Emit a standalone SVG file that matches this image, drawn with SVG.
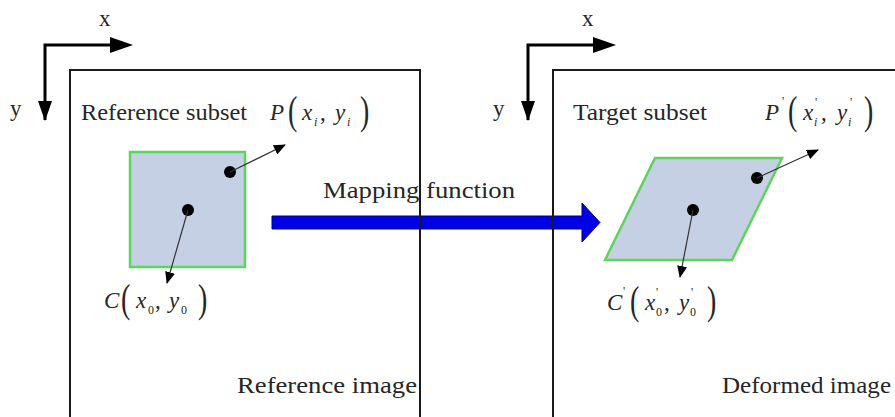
<svg xmlns="http://www.w3.org/2000/svg" width="895" height="417" viewBox="0 0 895 417">
<style>
  .t { font-family: "Liberation Serif", "Times New Roman", serif; font-size: 23px; fill: #262626; }
  .m { font-family: "Liberation Serif", "Times New Roman", serif; font-size: 23px; font-style: italic; fill: #262626; }
  .par { font-family: "Liberation Serif", "Times New Roman", serif; font-size: 40px; fill: #262626; }
  .sub { font-family: "Liberation Serif", "Times New Roman", serif; font-size: 12px; font-style: italic; fill: #262626; }
  .subn { font-family: "Liberation Serif", "Times New Roman", serif; font-size: 12px; fill: #262626; }
  .frame { fill: none; stroke: #1a1a1a; stroke-width: 2; }
  .axis { fill: none; stroke: #000; stroke-width: 3; }
  .subset { fill: #c6d0e4; stroke: #5ed35e; stroke-width: 2.5; }
  .dot { fill: #000; }
  .ptr { fill: none; stroke: #333; stroke-width: 1.2; marker-end: url(#ah); }
</style>
<defs>
  <marker id="ah" viewBox="0 0 12 10" refX="11" refY="5" markerWidth="12" markerHeight="10" markerUnits="userSpaceOnUse" orient="auto">
    <path d="M0,0 L12,5 L0,10 Z" fill="#000"/>
  </marker>
</defs>
<rect width="895" height="417" fill="#fff"/>

<g id="axes-left">
  <polyline class="axis" points="45,120 45,45 112,45"/>
  <polygon points="110,37 133,45 110,53" fill="#000"/>
  <polygon points="38,101 52,101 45,121" fill="#000"/>
  <text class="t" x="99" y="26">x</text>
  <text class="t" x="10" y="116">y</text>
</g>
<g id="axes-right">
  <polyline class="axis" points="528,120 528,45 595,45"/>
  <polygon points="593,37 616,45 593,53" fill="#000"/>
  <polygon points="521,101 535,101 528,121" fill="#000"/>
  <text class="t" x="582" y="26">x</text>
  <text class="t" x="493" y="116">y</text>
</g>

<g id="reference-subset">
  <rect class="subset" x="130" y="152" width="115" height="115"/>
  <circle class="dot" cx="230" cy="172" r="6"/>
  <circle class="dot" cx="188" cy="210" r="6"/>
</g>
<g id="target-subset">
  <polygon class="subset" points="655,158 782,158 732,260 605,260"/>
  <circle class="dot" cx="757" cy="178" r="6"/>
  <circle class="dot" cx="693" cy="210" r="6"/>
</g>

<g id="connectors">
  <polygon points="272,216 582,216 582,203 600,222.5 582,242 582,229 272,229" fill="#0000e6" stroke="#00007a" stroke-width="1"/>
  <line class="ptr" x1="230" y1="172" x2="285" y2="145"/>
  <line class="ptr" x1="188" y1="210" x2="167" y2="283"/>
  <line class="ptr" x1="757" y1="178" x2="818" y2="150"/>
  <line class="ptr" x1="693" y1="210" x2="680" y2="277"/>
</g>

<g id="reference-image">
  <rect class="frame" x="70" y="70" width="350" height="400"/>
  <text class="t" x="81" y="120" textLength="166" lengthAdjust="spacingAndGlyphs">Reference subset</text>
  <text class="t" x="237" y="393" textLength="180" lengthAdjust="spacingAndGlyphs">Reference image</text>
</g>
<g id="deformed-image">
  <rect class="frame" x="553" y="70" width="400" height="400"/>
  <text class="t" x="573" y="120" textLength="134" lengthAdjust="spacingAndGlyphs">Target subset</text>
  <text class="t" x="722" y="393" textLength="169" lengthAdjust="spacingAndGlyphs">Deformed image</text>
</g>

<g id="label-P">
  <text class="m" x="270" y="120">P</text>
  <text class="par" transform="translate(288,124) scale(0.7,1)">(</text>
  <text class="m" x="302" y="120">x</text>
  <text class="sub" x="314" y="126">i</text>
  <text class="t" x="320" y="120">,</text>
  <text class="m" x="335" y="120">y</text>
  <text class="sub" x="347" y="126">i</text>
  <text class="par" transform="translate(360,124) scale(0.7,1)">)</text>
</g>
<g id="label-P-prime">
  <text class="m" x="765" y="120">P</text>
  <text class="subn" x="782" y="105">'</text>
  <text class="par" transform="translate(788,124) scale(0.7,1)">(</text>
  <text class="m" x="803" y="120">x</text>
  <text class="subn" x="815" y="106">'</text>
  <text class="sub" x="814" y="126">i</text>
  <text class="t" x="821" y="120">,</text>
  <text class="m" x="837" y="120">y</text>
  <text class="subn" x="850" y="106">'</text>
  <text class="sub" x="848" y="126">i</text>
  <text class="par" transform="translate(864,124) scale(0.7,1)">)</text>
</g>
<g id="label-C">
  <text class="m" x="104" y="308">C</text>
  <text class="par" transform="translate(121,312) scale(0.7,1)">(</text>
  <text class="m" x="136" y="308">x</text>
  <text class="subn" x="148" y="314">0</text>
  <text class="t" x="155" y="308">,</text>
  <text class="m" x="169" y="308">y</text>
  <text class="subn" x="181" y="314">0</text>
  <text class="par" transform="translate(198,312) scale(0.7,1)">)</text>
</g>
<g id="label-C-prime">
  <text class="m" x="607" y="310">C</text>
  <text class="subn" x="623" y="295">'</text>
  <text class="par" transform="translate(630,314) scale(0.7,1)">(</text>
  <text class="m" x="645" y="310">x</text>
  <text class="subn" x="656" y="296">'</text>
  <text class="subn" x="656" y="316">0</text>
  <text class="t" x="664" y="310">,</text>
  <text class="m" x="679" y="310">y</text>
  <text class="subn" x="691" y="296">'</text>
  <text class="subn" x="690" y="316">0</text>
  <text class="par" transform="translate(707,314) scale(0.7,1)">)</text>
</g>

<g id="mapping-label">
  <text class="t" x="323" y="198" textLength="192" lengthAdjust="spacingAndGlyphs">Mapping function</text>
</g>
</svg>
